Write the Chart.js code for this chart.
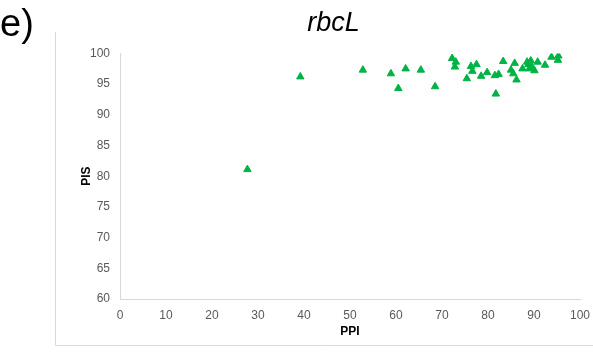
<!DOCTYPE html>
<html>
<head>
<meta charset="utf-8">
<script src="https://cdn.jsdelivr.net/npm/chart.js@4.4.0/dist/chart.umd.min.js"></script>
<style>
    html, body { margin: 0; padding: 0; background: #fff; }
    #wrap { position: relative; width: 593px; height: 356px; }
    #panel_label {
        position: absolute; left: 0; top: 2px;
        font: 38px "Liberation Sans", Arial, sans-serif; color: #000;
    }
</style>
</head>
<body>
<div id="wrap">
    <canvas id="scatterChart" width="593" height="356"></canvas>
    <div id="panel_label">e)</div>
</div>
<script>
// PPI (x) and PIS (y) per sample
const ppi_values = [27.7, 39.2, 52.8, 58.9, 62.1, 65.4, 60.5, 68.5, 72.2, 73.0,
    72.8, 75.4, 76.3, 76.6, 77.5, 78.5, 79.8, 81.5, 82.3, 81.7,
    83.3, 85.0, 85.8, 85.5, 86.2, 87.5, 88.8, 89.3, 89.5, 90.1,
    90.8, 92.4, 93.8, 95.3, 95.2, 88.5, 89.0];
const pis_values = [81.1, 96.2, 97.3, 96.7, 97.5, 97.3, 94.3, 94.6, 99.2, 98.6,
    97.8, 95.9, 97.9, 97.1, 98.2, 96.3, 96.9, 96.4, 96.6, 93.4,
    98.7, 97.3, 98.4, 96.7, 95.7, 97.5, 98.2, 98.8, 97.9, 97.2,
    98.6, 98.1, 99.4, 99.6, 98.9, 98.6, 97.5];
const x_ticks = [0, 10, 20, 30, 40, 50, 60, 70, 80, 90, 100];
const y_ticks = [60, 65, 70, 75, 80, 85, 90, 95, 100];

const marker_color = '#00b345';
const axis_color = '#d9d9d9';
const tick_color = '#595959';

// light frame around the figure (left and bottom edges only are visible)
const frame_plugin = {
    id: 'frame',
    beforeDraw(chart) {
        const ctx = chart.ctx;
        ctx.save();
        ctx.fillStyle = '#fff';
        ctx.fillRect(0, 0, chart.width, chart.height);
        ctx.strokeStyle = axis_color;
        ctx.lineWidth = 1;
        ctx.beginPath();
        ctx.moveTo(55.5, 32);
        ctx.lineTo(55.5, 345.5);
        ctx.lineTo(chart.width, 345.5);
        ctx.stroke();
        ctx.restore();
    }
};

const points = ppi_values.map((x, i) => ({ x: x, y: pis_values[i] }));

new Chart(document.getElementById('scatterChart').getContext('2d'), {
    type: 'scatter',
    data: {
        datasets: [{
            data: points,
            pointStyle: 'triangle',
            pointRadius: 4.3,
            pointBorderWidth: 1,
            backgroundColor: marker_color,
            borderColor: marker_color
        }]
    },
    options: {
        responsive: false,
        animation: false,
        layout: { padding: { left: 74, right: 0, top: 0, bottom: 11 } },
        plugins: {
            legend: { display: false },
            tooltip: { enabled: false },
            title: {
                display: true,
                text: 'rbcL',
                color: '#000',
                font: { family: '"Liberation Sans", Arial, sans-serif', size: 27, style: 'italic', weight: 'normal' },
                padding: { top: 7, bottom: 14 }
            }
        },
        scales: {
            x: {
                type: 'linear',
                min: 0,
                max: 100,
                afterBuildTicks: axis => { axis.ticks = x_ticks.map(v => ({ value: v })); },
                afterFit: axis => {
                    axis.height = 46;
                    axis.paddingRight = 13;
                },
                grid: { drawOnChartArea: false, drawTicks: false },
                border: { color: axis_color },
                ticks: {
                    color: tick_color,
                    padding: 9,
                    maxRotation: 0,
                    font: { family: '"Liberation Sans", Arial, sans-serif', size: 12 }
                },
                title: {
                    display: true,
                    text: 'PPI',
                    color: '#000',
                    padding: { top: 0, bottom: 6 },
                    font: { family: '"Liberation Sans", Arial, sans-serif', size: 12, weight: 'bold' }
                }
            },
            y: {
                type: 'linear',
                min: 60,
                max: 100,
                afterBuildTicks: axis => { axis.ticks = y_ticks.map(v => ({ value: v })); },
                afterFit: axis => { axis.width = 46; },
                grid: { drawOnChartArea: false, drawTicks: false },
                border: { color: axis_color },
                ticks: {
                    color: tick_color,
                    padding: 10,
                    font: { family: '"Liberation Sans", Arial, sans-serif', size: 12 }
                },
                title: {
                    display: true,
                    text: 'PIS',
                    color: '#000',
                    padding: { top: 5, bottom: 0 },
                    font: { family: '"Liberation Sans", Arial, sans-serif', size: 12, weight: 'bold' }
                }
            }
        }
    },
    plugins: [frame_plugin]
});
</script>
</body>
</html>
